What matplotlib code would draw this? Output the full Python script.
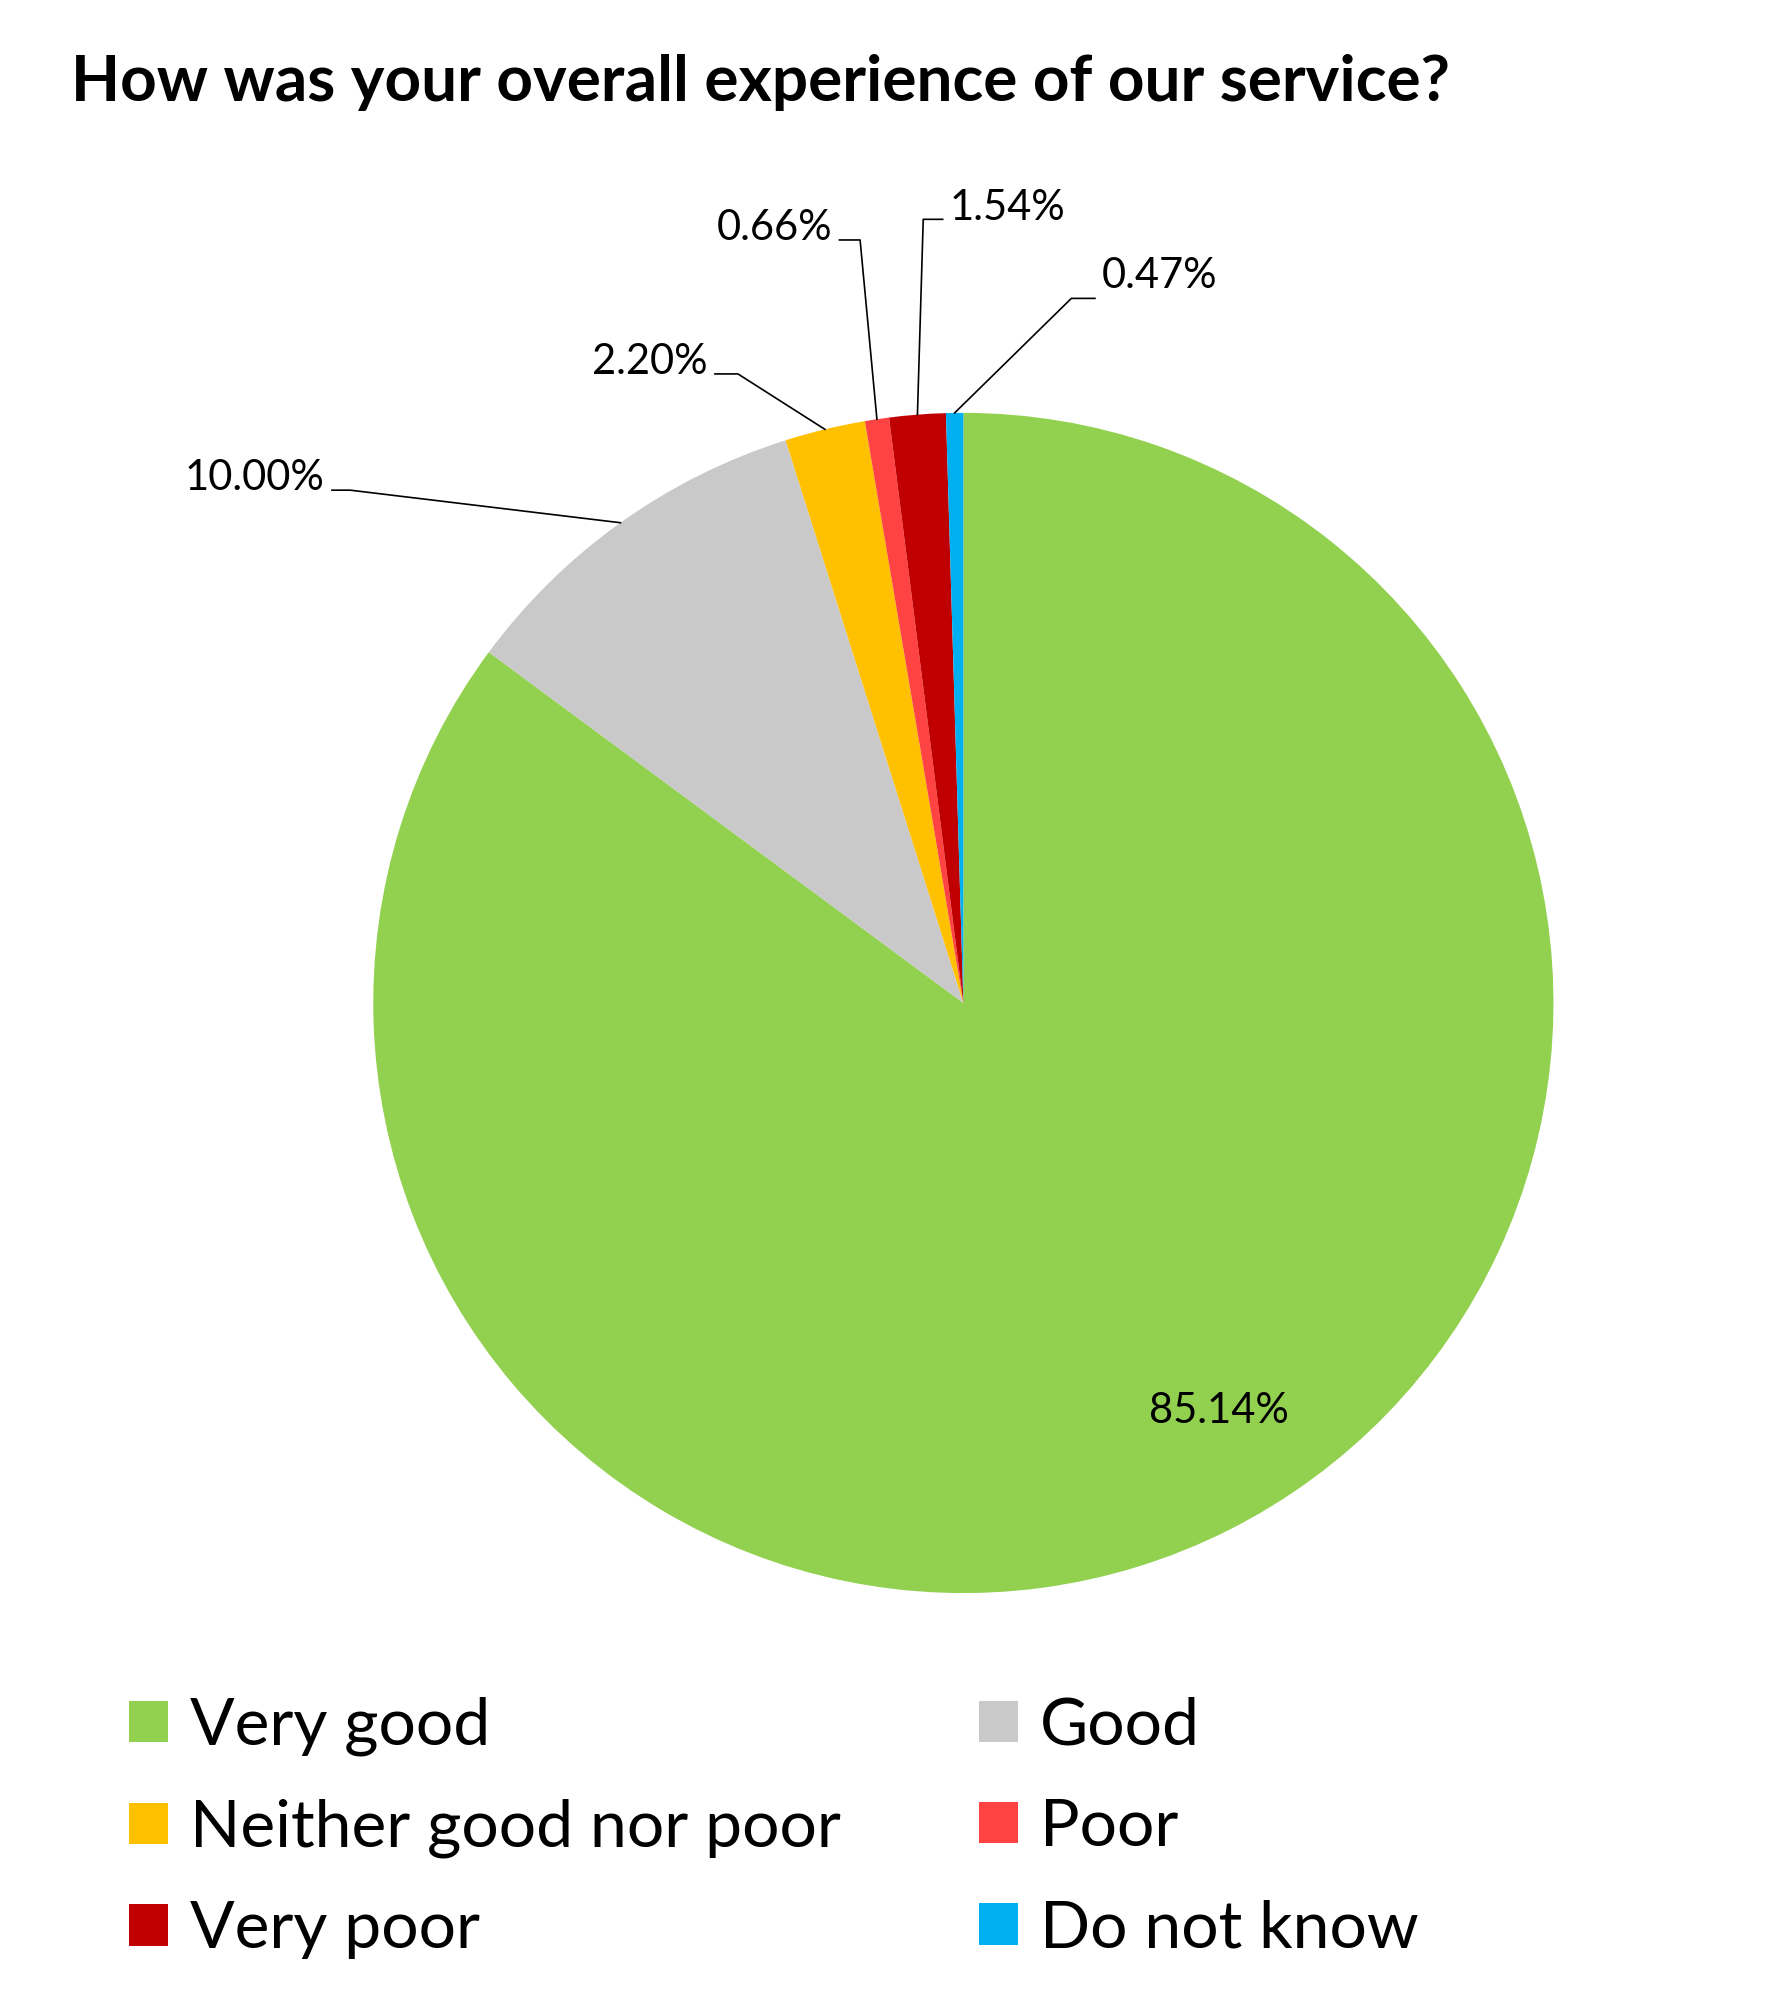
import numpy as np
import matplotlib
matplotlib.use("Agg")
from matplotlib import pyplot as plt

plt.rcParams['font.family'] = ['Lato', 'DejaVu Sans']

# data
categories = ['Very good', 'Good', 'Neither good nor poor', 'Poor', 'Very poor', 'Do not know']
shares = [85.14, 10.00, 2.20, 0.66, 1.54, 0.47]
colors = ['#92D050', '#C9C9C9', '#FFC000', '#FF4343', '#C00000', '#00B0F0']

# label layout (pie data units, radius 1): leader elbow, leader end, text side, text lift
elbows = [None, (-1.039, 0.869), (-0.382, 1.066), (-0.175, 1.293), (-0.068, 1.328), (0.183, 1.194)]
ends = [None, (-1.070, 0.869), (-0.421, 1.066), (-0.210, 1.293), (-0.035, 1.328), (0.223, 1.194)]
sides = [None, 'right', 'right', 'right', 'left', 'left']
lifts = [None, 0.02, 0.02, 0.02, 0.02, 0.038]

fig = plt.figure(figsize=(17.84, 20.14), dpi=100)
ax = fig.add_axes([0.209, 0.209, 0.662, 0.586])

wedges, _ = ax.pie(shares, colors=colors, startangle=90, counterclock=False,
                   radius=1, wedgeprops=dict(linewidth=0))
ax.set_xlim(-1, 1)
ax.set_ylim(-1, 1)
ax.set_aspect('equal')
ax.axis('off')

for i, w in enumerate(wedges):
    mid = np.deg2rad((w.theta1 + w.theta2) / 2)
    txt = f'{shares[i]:.2f}%'
    if elbows[i] is None:
        ax.text(0.83 * np.cos(mid) + 0.06, 0.83 * np.sin(mid) + 0.05, txt,
                ha='center', va='center', fontsize=30)
        continue
    px, py = np.cos(mid), np.sin(mid)
    ex, ey = elbows[i]
    tx, ty = ends[i]
    ax.plot([px, ex, tx], [py, ey, ty], color='black', lw=1.2, clip_on=False)
    gap = -0.012 if sides[i] == 'right' else 0.012
    ax.text(tx + gap, ty + lifts[i], txt, ha=sides[i], va='center', fontsize=30)

fig.text(0.040, 0.959, 'How was your overall experience of our service?',
         fontsize=46, fontweight='bold', ha='left', va='center')

# legend fills row by row like the original
order = [0, 2, 4, 1, 3, 5]
fig.legend([wedges[k] for k in order], [categories[k] for k in order],
           loc='upper left', bbox_to_anchor=(0.0723, 0.1575),
           ncol=2, frameon=False, fontsize=47.5, handlelength=0.59, handleheight=0.59,
           handletextpad=0.33, columnspacing=2.1, labelspacing=0.64,
           borderpad=0, borderaxespad=0)

fig.savefig('out.png', dpi=100, facecolor='white')
